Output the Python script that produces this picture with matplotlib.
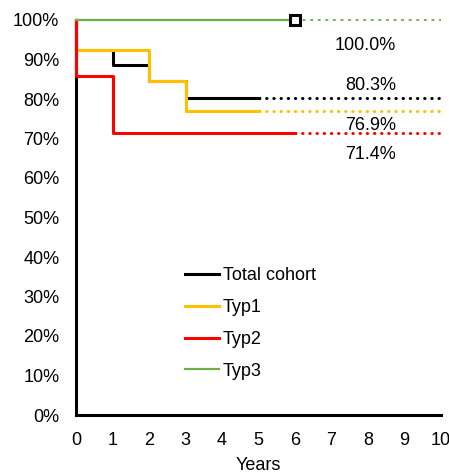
import matplotlib.pyplot as plt
plt.switch_backend('agg')

# Kaplan-Meier style curves (percent survival)
total_x = [0, 0, 1, 2, 3, 5]
total_y = [100, 92.3, 88.5, 84.6, 80.3, 80.3]
typ1_x = [0, 0, 2, 3, 5]
typ1_y = [100, 92.3, 84.6, 76.9, 76.9]
typ2_x = [0, 0, 1, 6]
typ2_y = [100, 85.7, 71.4, 71.4]
typ3_x = [0, 6]
typ3_y = [100, 100]
censor_x = [6]
censor_y = [100]

end_labels = ['100.0%', '80.3%', '76.9%', '71.4%']
end_label_y = [93.6, 83.5, 73.2, 65.9]

x_ticks = list(range(0, 11))
y_ticks = list(range(0, 101, 10))
y_ticklabels = ['%d%%' % v for v in y_ticks]

plt.rcParams.update({'font.size': 13,
                     'font.family': ['Liberation Sans', 'DejaVu Sans']})

fig = plt.figure(figsize=(4.49, 4.72), dpi=100)
ax = fig.add_axes([76 / 449, 1 - 415 / 472, 365 / 449, 395 / 472])

col_total = 'black'
col_typ1 = '#ffc000'
col_typ2 = '#ff0000'
col_typ3 = '#70ad47'

# Dotted extensions to 10 years
dots = dict(lw=2.2, dash_capstyle='round', dashes=(0.1, 2.25), clip_on=False, zorder=2)
ax.plot([total_x[-1], 10], [total_y[-1]] * 2, color=col_total, **dots)
ax.plot([typ1_x[-1], 10], [typ1_y[-1]] * 2, color=col_typ1, **dots)
ax.plot([typ2_x[-1], 10], [typ2_y[-1]] * 2, color=col_typ2, **dots)
ax.plot([typ3_x[-1], 10], [typ3_y[-1]] * 2, color=col_typ3, lw=1.3,
        dashes=(1.6, 2.6), clip_on=False, zorder=2)

# Curves
ax.step(total_x, total_y, where='post', color=col_total, lw=2.2,
        label='Total cohort', clip_on=False, zorder=3)
ax.step(typ1_x, typ1_y, where='post', color=col_typ1, lw=2.2,
        label='Typ1', clip_on=False, zorder=4)
ax.step(typ2_x, typ2_y, where='post', color=col_typ2, lw=2.2,
        label='Typ2', clip_on=False, zorder=5)
ax.step(typ3_x, typ3_y, where='post', color=col_typ3, lw=1.6,
        label='Typ3', clip_on=False, zorder=5)
ax.plot(censor_x, censor_y, 's', ms=7, mfc='white', mec='black', mew=2.2,
        clip_on=False, zorder=6)

for lab, yy in zip(end_labels, end_label_y):
  ax.text(8.77, yy, lab, ha='right', va='center', fontsize=13)

ax.set_xlim(0, 10)
ax.set_ylim(0, 100)
ax.set_xticks(x_ticks)
ax.set_yticks(y_ticks)
ax.set_yticklabels(y_ticklabels)
ax.tick_params(length=0, pad=12)
ax.set_xlabel('Years', labelpad=6)

for side in ['top', 'right']:
  ax.spines[side].set_visible(False)
for side in ['left', 'bottom']:
  ax.spines[side].set_linewidth(2.2)
ax.spines['left'].set_zorder(3.5)

ax.legend(loc='upper left', bbox_to_anchor=(0.279, 0.392), frameon=False,
          handlelength=1.9, handletextpad=0.2, labelspacing=0.82,
          borderaxespad=0, fontsize=13)

plt.savefig('out.png', dpi=100)
